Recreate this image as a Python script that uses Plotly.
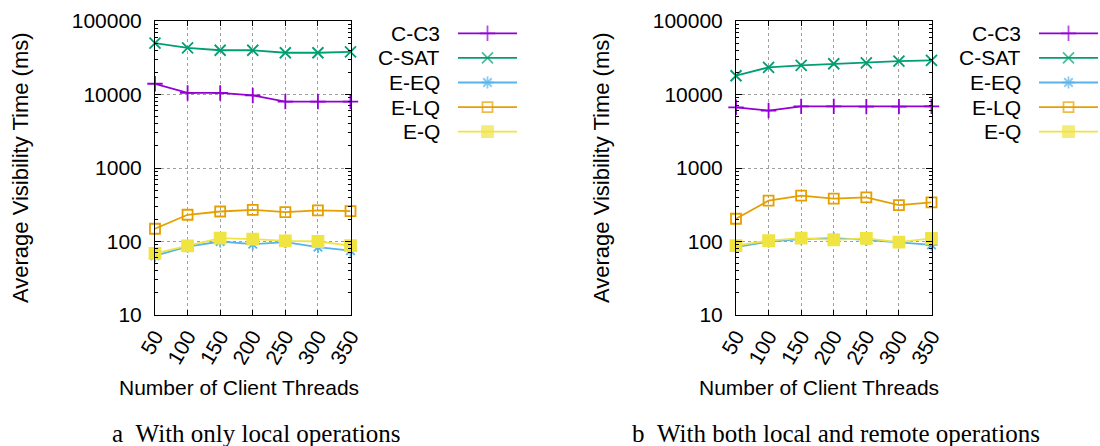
import plotly.graph_objects as go

threads = [50, 100, 150, 200, 250, 300, 350]
series_names = ["C-C3", "C-SAT", "E-EQ", "E-LQ", "E-Q"]

# (a) With only local operations
local_c3 = [14000, 10500, 10500, 9700, 8000, 8000, 8000]
local_sat = [50000, 43000, 40000, 40000, 37000, 37000, 38000]
local_eeq = [64, 85, 100, 92, 98, 84, 75]
local_elq = [149, 231, 256, 270, 251, 265, 259]
local_eq = [69, 87, 111, 108, 102, 100, 88]

# (b) With both local and remote operations
remote_c3 = [6700, 6050, 6900, 6900, 6850, 6850, 6900]
remote_sat = [18000, 23400, 24900, 26200, 27000, 28500, 29100]
remote_eeq = [84, 100, 108, 111, 105, 98, 90]
remote_elq = [204, 359, 420, 382, 398, 313, 340]
remote_eq = [88, 103, 111, 105, 110, 98, 110]

y_tickvals = [10, 100, 1000, 10000, 100000]
y_ticktext = ["10", "100", "1000", "10000", "100000"]
captions = ["a\u2002With only local operations", "b\u2002With both local and remote operations"]
x_title = "Number of Client Threads"
y_title = "Average Visibility Time (ms)"

colors = ["#9400d3", "#009e73", "#56b4e9", "#e69f00", "#f0e442"]
symbols = ["cross-thin-open", "x-thin-open", "asterisk-open", "square-open", "square"]
msizes = [11, 11, 10, 10, 11]

W, H = 1100, 446
FONT = "Liberation Sans, Arial, sans-serif"
FS = 21


def px_x(p):
    return p / W


def px_y(p):
    return (H - p) / H


fig = go.Figure()

panels = [
    (["x", "y"], [local_c3, local_sat, local_eeq, local_elq, local_eq]),
    (["x2", "y2"], [remote_c3, remote_sat, remote_eeq, remote_elq, remote_eq]),
]
for (xa, ya), data in panels:
    for i, (name, vals) in enumerate(zip(series_names, data)):
        fig.add_trace(go.Scatter(
            x=threads, y=vals, xaxis=xa, yaxis=ya, mode="lines+markers",
            name=name, showlegend=False, cliponaxis=False,
            line=dict(color=colors[i], width=1.8),
            marker=dict(symbol=symbols[i], size=msizes[i], color=colors[i],
                        line=dict(color=colors[i], width=1.8)),
        ))

# custom legends (text left of sample, as in the reference)
for xa, ya in [("x3", "y3"), ("x4", "y4")]:
    for i, name in enumerate(series_names):
        fig.add_trace(go.Scatter(
            x=[0, 0.5, 1], y=[i, i, i], xaxis=xa, yaxis=ya, mode="lines+markers",
            showlegend=False, cliponaxis=False, hoverinfo="skip",
            line=dict(color=colors[i], width=1.8),
            marker=dict(symbol=symbols[i], size=[0, msizes[i], 0], color=colors[i],
                        line=dict(color=colors[i], width=1.8)),
        ))
        fig.add_annotation(x=0, y=i, xref=xa, yref=ya, text=name, showarrow=False,
                           xanchor="right", yanchor="middle", xshift=-16,
                           font=dict(family=FONT, size=FS, color="black"))

plot_top, plot_bot = 21, 315
ydom = [px_y(plot_bot), px_y(plot_top)]

common_x = dict(
    range=[50, 350], tickvals=threads, tickangle=-60, showline=True, linecolor="black",
    linewidth=1, mirror="ticks", ticks="inside", ticklen=5, tickcolor="black",
    showgrid=True, gridcolor="#a0a0a0", griddash="dot", gridwidth=1, zeroline=False,
    automargin=False,
    tickfont=dict(family=FONT, size=FS, color="black"),
)
common_y = dict(
    type="log", range=[1, 5], tickvals=y_tickvals, ticktext=y_ticktext,
    showline=True, linecolor="black", linewidth=1, mirror="ticks", ticks="inside",
    ticklen=6, tickcolor="black", showgrid=True, gridcolor="#a0a0a0", griddash="dot",
    gridwidth=1, zeroline=False, ticklabelstandoff=8, automargin=False,
    tickfont=dict(family=FONT, size=FS, color="black"),
    minor=dict(ticks="inside", ticklen=3, tickcolor="black", dtick="D1", showgrid=False),
)
hidden = dict(visible=False, fixedrange=True, automargin=False)

fig.update_layout(
    width=W, height=H, margin=dict(l=0, r=0, t=0, b=0, pad=0, autoexpand=False),
    paper_bgcolor="white", plot_bgcolor="rgba(0,0,0,0)",
    xaxis=dict(domain=[px_x(155), px_x(350.5)], anchor="y", **common_x),
    yaxis=dict(domain=ydom, anchor="x", **common_y),
    xaxis2=dict(domain=[px_x(736), px_x(931.5)], anchor="y2", **common_x),
    yaxis2=dict(domain=ydom, anchor="x2", **common_y),
    xaxis3=dict(domain=[px_x(458), px_x(517)], anchor="y3", range=[0, 1], **hidden),
    yaxis3=dict(domain=[px_y(144), px_y(21)], anchor="x3", range=[4.5, -0.5], **hidden),
    xaxis4=dict(domain=[px_x(1039), px_x(1098)], anchor="y4", range=[0, 1], **hidden),
    yaxis4=dict(domain=[px_y(144), px_y(21)], anchor="x4", range=[4.5, -0.5], **hidden),
    showlegend=False,
)

# axis titles
for cx in [239, 819]:
    fig.add_annotation(x=px_x(cx), y=px_y(387), xref="paper", yref="paper", text=x_title,
                       showarrow=False, xanchor="center", yanchor="middle",
                       font=dict(family=FONT, size=FS, color="black"))
for cx in [20, 601]:
    fig.add_annotation(x=px_x(cx), y=px_y(168), xref="paper", yref="paper", text=y_title,
                       showarrow=False, xanchor="center", yanchor="middle", textangle=-90,
                       font=dict(family=FONT, size=22, color="black"))

# captions
for cx, cap in zip([256, 836], captions):
    fig.add_annotation(x=px_x(cx), y=px_y(433), xref="paper", yref="paper", text=cap,
                       showarrow=False, xanchor="center", yanchor="middle",
                       font=dict(family="Liberation Serif, Times New Roman, serif", size=25,
                                 color="black"))

fig.write_html("out.html")
